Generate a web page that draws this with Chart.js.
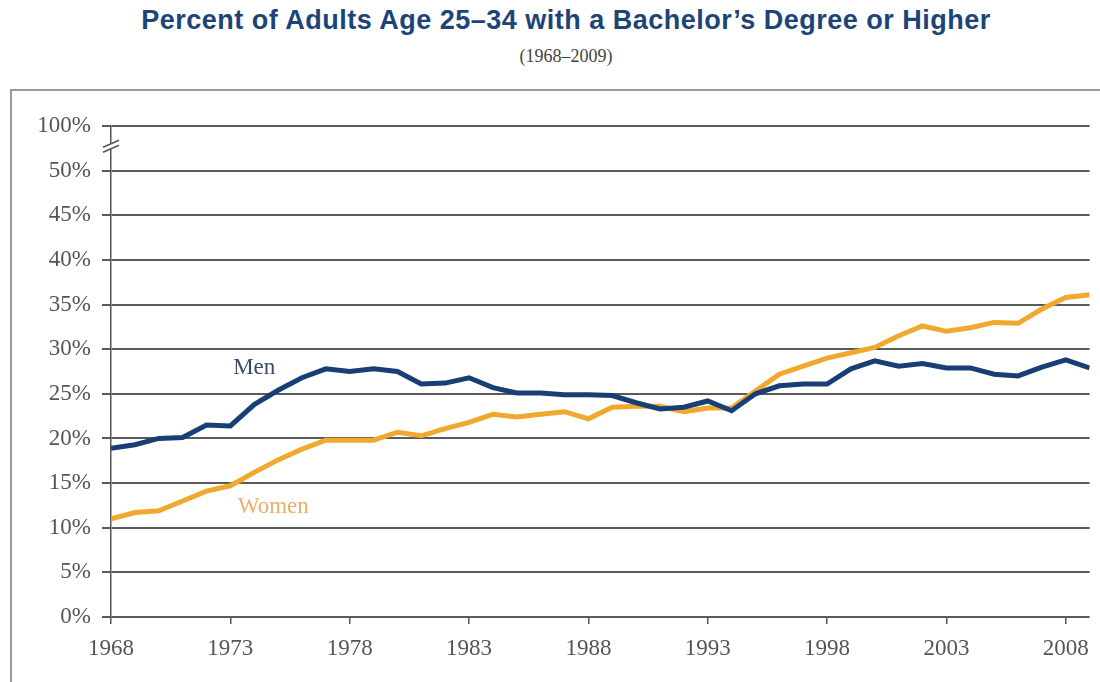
<!DOCTYPE html>
<html>
<head>
<meta charset="utf-8">
<script src="https://cdn.jsdelivr.net/npm/chart.js@4.4.1/dist/chart.umd.min.js"></script>
<style>
  html, body { margin: 0; padding: 0; background: #fff; }
  body { width: 1100px; height: 682px; position: relative; overflow: hidden; }
  #title { position: absolute; left: 0; width: 1132px; top: 5px; text-align: center;
    font: bold 27px "Liberation Sans", Arial, sans-serif; letter-spacing: 0.5px; color: #1d4477; }
  #subtitle { position: absolute; left: 0; width: 1132px; top: 46px; text-align: center;
    font: 18px "Liberation Serif", "Times New Roman", serif; color: #444; }
  #box { position: absolute; left: 10px; top: 89px; width: 1200px; height: 700px;
    border: 2px solid #9a9a9a; }
  #wrap { position: absolute; left: 0; top: 0; width: 1100px; height: 682px; }
</style>
</head>
<body>
<div id="title">Percent of Adults Age 25–34 with a Bachelor’s Degree or Higher</div>
<div id="subtitle">(1968–2009)</div>
<div id="box"></div>
<div id="wrap"><canvas id="myChart"></canvas></div>
<script>
const serif = '"Liberation Serif", "Times New Roman", serif';
const navy = "#173f75";
const gold = "#f0a82e";

// Data
const years = [1968, 1969, 1970, 1971, 1972, 1973, 1974, 1975, 1976, 1977,
  1978, 1979, 1980, 1981, 1982, 1983, 1984, 1985, 1986, 1987,
  1988, 1989, 1990, 1991, 1992, 1993, 1994, 1995, 1996, 1997,
  1998, 1999, 2000, 2001, 2002, 2003, 2004, 2005, 2006, 2007,
  2008, 2009];
const men = [18.9, 19.3, 20.0, 20.1, 21.5, 21.4, 23.8, 25.4, 26.8, 27.8,
  27.5, 27.8, 27.5, 26.1, 26.2, 26.8, 25.7, 25.1, 25.1, 24.9,
  24.9, 24.8, 24.0, 23.3, 23.5, 24.2, 23.1, 25.0, 25.9, 26.1,
  26.1, 27.8, 28.7, 28.1, 28.4, 27.9, 27.9, 27.2, 27.0, 28.0,
  28.8, 27.9];
const women = [11.0, 11.7, 11.9, 13.0, 14.1, 14.7, 16.2, 17.6, 18.8, 19.8,
  19.8, 19.8, 20.7, 20.3, 21.1, 21.8, 22.7, 22.4, 22.7, 23.0,
  22.2, 23.5, 23.6, 23.6, 23.0, 23.4, 23.4, 25.3, 27.2, 28.1,
  29.0, 29.6, 30.2, 31.5, 32.6, 32.0, 32.4, 33.0, 32.9, 34.5,
  35.8, 36.1];
const xTicks = [1968, 1973, 1978, 1983, 1988, 1993, 1998, 2003, 2008];
const yTicks = [0, 5, 10, 15, 20, 25, 30, 35, 40, 45, 50, 55];
const yTickLabels = ["0%", "5%", "10%", "15%", "20%", "25%", "30%", "35%", "40%", "45%", "50%", "100%"];
const seriesLabels = ["Men", "Women"];
const labelYears = [1974.0, 1974.8];
const labelValues = [27.9, 12.3];

// series names placed at data coords + the axis break mark
const extras = {
    id: 'extras',
    afterDraw(chart) {
        const { ctx, scales: { x, y } } = chart;
        ctx.save();
        ctx.font = '23px ' + serif;
        ctx.textAlign = 'center';
        ctx.textBaseline = 'middle';
        const colors = ['#3c4a66', '#eab068'];
        seriesLabels.forEach((t, i) => {
            ctx.fillStyle = colors[i];
            ctx.fillText(t, x.getPixelForValue(labelYears[i]), y.getPixelForValue(labelValues[i]));
        });
        // break mark between 50% and 100%
        const ax = x.left;
        const by = (y.getPixelForValue(55) + y.getPixelForValue(50)) / 2 - 2;
        ctx.fillStyle = '#fff';
        ctx.fillRect(ax - 2, by - 3, 4, 6);
        ctx.strokeStyle = '#555';
        ctx.lineWidth = 1.6;
        ctx.beginPath();
        ctx.moveTo(ax - 8, by + 1); ctx.lineTo(ax + 8, by - 6);
        ctx.moveTo(ax - 8, by + 6); ctx.lineTo(ax + 8, by - 1);
        ctx.stroke();
        ctx.restore();
    }
};

new Chart("myChart", {
    type: "line",
    data: {
        datasets: [{
            label: seriesLabels[0],
            data: years.map((yr, i) => ({ x: yr, y: men[i] })),
            borderColor: navy,
            borderWidth: 5,
            pointRadius: 0,
            tension: 0,
        }, {
            label: seriesLabels[1],
            data: years.map((yr, i) => ({ x: yr, y: women[i] })),
            borderColor: gold,
            borderWidth: 5,
            pointRadius: 0,
            tension: 0,
        }],
    },
    options: {
        responsive: true,
        maintainAspectRatio: false,
        animation: false,
        layout: { padding: { top: 126, right: 10, left: 0, bottom: 0 } },
        plugins: {
            legend: { display: false },
            tooltip: { enabled: false },
        },
        scales: {
            x: {
                type: 'linear',
                min: 1968,
                max: 2009,
                afterBuildTicks: s => { s.ticks = xTicks.map(v => ({ value: v })); },
                afterFit: s => { s.height = 65; },
                grid: {
                    drawOnChartArea: false,
                    drawTicks: true,
                    tickLength: 7,
                    color: '#555',
                    lineWidth: 1.5,
                },
                border: { display: false },
                ticks: {
                    padding: 11,
                    color: '#555',
                    font: { family: serif, size: 23 },
                    maxRotation: 0,
                    callback: v => String(v),
                },
            },
            y: {
                min: 0,
                max: 55,
                afterBuildTicks: s => { s.ticks = yTicks.map(v => ({ value: v })); },
                afterFit: s => { s.width = 111; },
                grid: {
                    color: '#5a5a5a',
                    lineWidth: 2,
                    tickLength: 9,
                },
                border: { display: true, color: '#555', width: 1.5 },
                ticks: {
                    padding: 11,
                    color: '#555',
                    font: { family: serif, size: 23 },
                    callback: v => yTickLabels[yTicks.indexOf(v)],
                },
            },
        },
    },
    plugins: [extras]
});
</script>
</body>
</html>
